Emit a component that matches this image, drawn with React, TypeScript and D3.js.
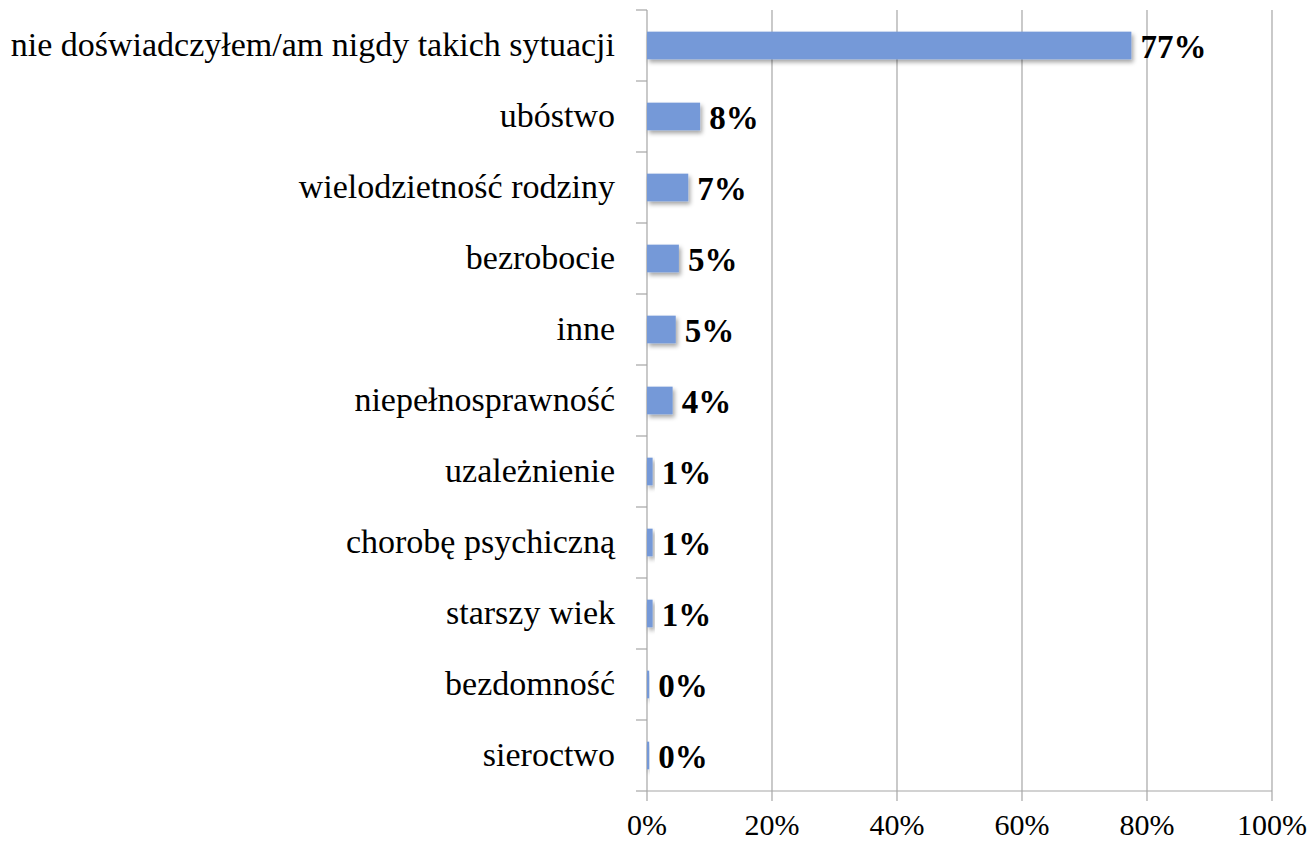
import React from "react";
import * as d3 from "d3";

const categories = [
  "nie doświadczyłem/am nigdy takich sytuacji",
  "ubóstwo",
  "wielodzietność rodziny",
  "bezrobocie",
  "inne",
  "niepełnosprawność",
  "uzależnienie",
  "chorobę psychiczną",
  "starszy wiek",
  "bezdomność",
  "sieroctwo",
];
const values = [77.5, 8.5, 6.6, 5.1, 4.6, 4.1, 0.9, 0.9, 0.9, 0.35, 0.35];
const valueLabels = ["77%", "8%", "7%", "5%", "5%", "4%", "1%", "1%", "1%", "0%", "0%"];
const xTicks = [0, 20, 40, 60, 80, 100];

const W = 1313;
const H = 841;
const left = 647;
const right = 1272;
const top = 10;
const bottom = 791;
const FONT = "'Liberation Serif', 'Times New Roman', serif";

export default function App() {
  const x = d3.scaleLinear().domain([0, 100]).range([left, right]);
  const y = d3.scaleBand<string>().domain(categories).range([top, bottom]).paddingInner(0.61).paddingOuter(0.305);
  const band = (bottom - top) / categories.length;
  const boundaries = d3.range(categories.length + 1).map((i) => top + i * band);
  const grey = "#a6a6a6";
  return (
    <svg width={W} height={H} style={{ position: "absolute", left: 0, top: 0, background: "#fff" }}>
      <defs>
        <filter id="sh" x="-20%" y="-50%" width="150%" height="220%">
          <feDropShadow dx="2" dy="3" stdDeviation="2" floodColor="#000" floodOpacity="0.35" />
        </filter>
      </defs>
      {xTicks.slice(1).map((t) => (
        <line key={t} x1={x(t)} x2={x(t)} y1={top} y2={bottom + 10} stroke={grey} strokeWidth={1.2} />
      ))}
      <line x1={x(0)} x2={x(0)} y1={top} y2={bottom + 10} stroke={grey} strokeWidth={1.2} />
      <line x1={x(0)} x2={x(100)} y1={bottom} y2={bottom} stroke={grey} strokeWidth={1.2} />
      {boundaries.map((b, i) => (
        <line key={i} x1={x(0) - 11} x2={x(0)} y1={b} y2={b} stroke={grey} strokeWidth={1.2} />
      ))}
      {categories.map((c, i) => (
        <g key={c}>
          <rect x={x(0)} y={y(c)} width={x(values[i]) - x(0)} height={y.bandwidth()} fill="#7599d8" filter="url(#sh)" />
          <text
            x={x(values[i]) + 9}
            y={(y(c) as number) + y.bandwidth() / 2 + 12}
            fontFamily={FONT}
            fontWeight="bold"
            fontSize={33}
            fill="#000"
          >
            {valueLabels[i]}
          </text>
          <text
            x={615}
            y={(y(c) as number) + y.bandwidth() / 2 + 10.5}
            textAnchor="end"
            fontFamily={FONT}
            fontSize={34}
            fill="#000"
          >
            {c}
          </text>
        </g>
      ))}
      {xTicks.map((t) => (
        <text key={t} x={x(t)} y={835} textAnchor="middle" fontFamily={FONT} fontSize={30} fill="#000">
          {t}%
        </text>
      ))}
    </svg>
  );
}
